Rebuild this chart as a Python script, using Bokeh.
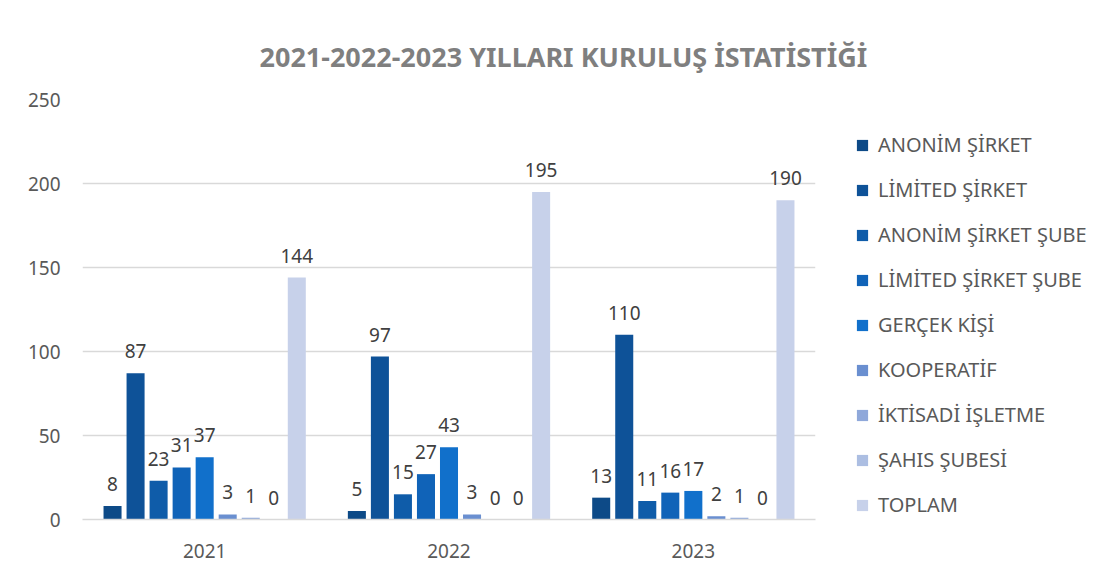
from bokeh.plotting import figure
from bokeh.models import ColumnDataSource, FactorRange, Range1d, Legend, LegendItem, LabelSet
from bokeh.transform import dodge
from bokeh.core.properties import value
from bokeh.embed import file_html
from bokeh.resources import INLINE

years = ["2021", "2022", "2023"]
series = ["ANONİM ŞİRKET", "LİMİTED ŞİRKET", "ANONİM ŞİRKET ŞUBE", "LİMİTED ŞİRKET ŞUBE",
          "GERÇEK KİŞİ", "KOOPERATİF", "İKTİSADİ İŞLETME", "ŞAHIS ŞUBESİ", "TOPLAM"]
anonim = [8, 5, 13]
limited = [87, 97, 110]
anonim_sube = [23, 15, 11]
limited_sube = [31, 27, 16]
gercek = [37, 43, 17]
kooperatif = [3, 3, 2]
iktisadi = [1, 0, 1]
sahis = [0, 0, 0]
toplam = [144, 195, 190]
values_list = [anonim, limited, anonim_sube, limited_sube, gercek, kooperatif, iktisadi, sahis, toplam]
colors = ["#0D4A87", "#0E5298", "#0F5CA9", "#1063B8", "#1170CB",
          "#6A8FD0", "#8FA8DA", "#ACBEE2", "#C7D1EA"]

FONT = "Noto Sans"

p = figure(frame_width=733, frame_height=420, x_range=FactorRange(*years), y_range=Range1d(0, 250),
           output_backend="svg", toolbar_location=None,
           min_border_left=82, min_border_right=0, min_border_top=99, min_border_bottom=44)

p.title.text = "2021-2022-2023  YILLARI KURULUŞ İSTATİSTİĞİ"
p.title.text_font = FONT
p.title.text_font_size = "27px"
p.title.text_font_style = "bold"
p.title.text_color = "#7F7F7F"
p.title.align = "left"
p.title.offset = 177
p.title.standoff = 50

pitch = 23.0 / 244.0
width = 18.0 / 244.0

items = []
for i, (name, vals, col) in enumerate(zip(series, values_list, colors)):
    src = ColumnDataSource(dict(x=years, top=vals, lab=[str(v) for v in vals]))
    off = (i - 4) * pitch
    r = p.vbar(x=dodge("x", off, range=p.x_range), top="top", width=width, source=src,
               fill_color=col, line_color=None)
    items.append(LegendItem(label=name, renderers=[r]))
    labels = LabelSet(x=dodge("x", off, range=p.x_range), y="top", text="lab", source=src,
                      text_align="center", text_baseline="bottom", y_offset=15,
                      text_font=value(FONT), text_font_size="19px", text_color="#404040")
    p.add_layout(labels)

legend = Legend(items=items, location=(40, 1), orientation="vertical",
                glyph_width=14, glyph_height=14, label_height=18, spacing=18,
                label_standoff=9, padding=0, margin=0,
                label_text_font=FONT, label_text_font_size="20px", label_text_color="#595959",
                border_line_color=None, background_fill_alpha=0)
p.add_layout(legend, "right")

p.xgrid.grid_line_color = None
p.ygrid.grid_line_color = "#D9D9D9"
p.ygrid.grid_line_width = 1.5
p.yaxis.ticker = [0, 50, 100, 150, 200, 250]
p.yaxis.axis_line_color = None
p.yaxis.major_tick_line_color = None
p.yaxis.minor_tick_line_color = None
p.yaxis.major_tick_out = 0
p.yaxis.minor_tick_out = 0
p.yaxis.major_label_text_font = FONT
p.yaxis.major_label_text_font_size = "19px"
p.yaxis.major_label_text_color = "#595959"
p.yaxis.major_label_standoff = 22

p.xaxis.axis_line_color = "#D9D9D9"
p.xaxis.axis_line_width = 1.5
p.xaxis.major_tick_line_color = None
p.xaxis.minor_tick_line_color = None
p.xaxis.major_label_text_font = FONT
p.xaxis.major_label_text_font_size = "19px"
p.xaxis.major_label_text_color = "#595959"
p.xaxis.major_label_standoff = 18

p.outline_line_color = None
p.x_range.range_padding = 0
p.x_range.group_padding = 0

open("out.html", "w").write(file_html(p, INLINE))
